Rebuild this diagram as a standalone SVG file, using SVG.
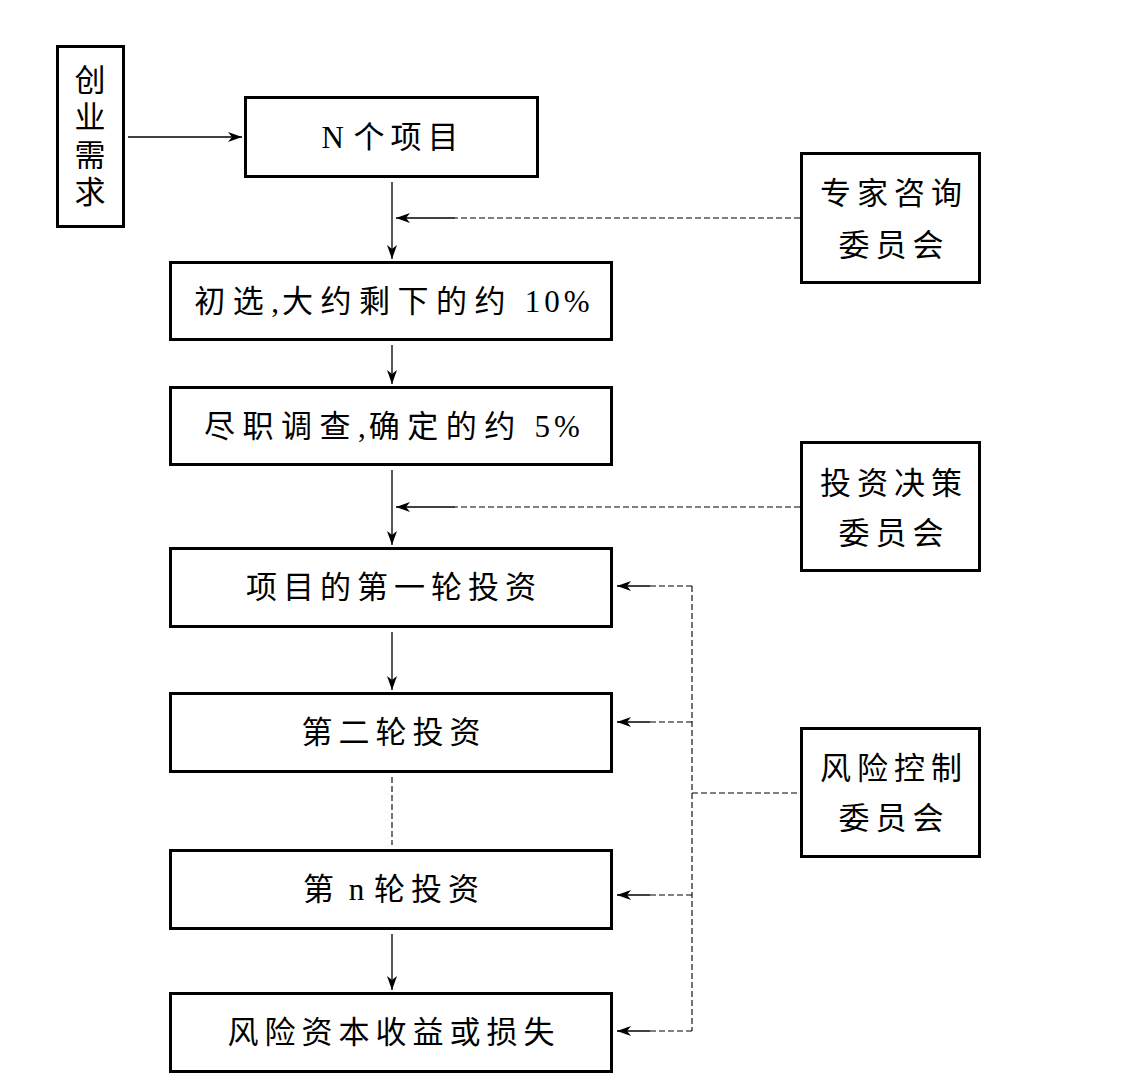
<svg xmlns="http://www.w3.org/2000/svg" width="1145" height="1087" viewBox="0 0 1145 1087">
<style>
.box{fill:#fff;stroke:#000;stroke-width:3}
.t{font-family:"Liberation Serif","Noto Sans CJK SC",serif;font-size:31px;fill:#000;text-anchor:middle;dominant-baseline:central;letter-spacing:6px}
.w{letter-spacing:7.5px}
.lat{letter-spacing:1px}
.ln{stroke:#000;stroke-width:1.3;fill:none}
.dl{stroke:#000;stroke-width:1.1;fill:none;stroke-dasharray:6 3}
</style>
<defs>
<marker id="ah" viewBox="0 0 14 10" refX="14" refY="5" markerWidth="14" markerHeight="10" markerUnits="userSpaceOnUse" orient="auto">
<path d="M0,0 L14,5 L0,10 L4,5 z" fill="#000"/>
</marker>
</defs>
<rect width="1145" height="1087" fill="#fff"/>
<g id="connectors">
<line class="ln" x1="128" y1="137" x2="242" y2="137" marker-end="url(#ah)"/>
<line class="ln" x1="392" y1="182" x2="392" y2="259" marker-end="url(#ah)"/>
<line class="ln" x1="455" y1="218" x2="396" y2="218" marker-end="url(#ah)"/>
<line class="dl" x1="800" y1="218" x2="455" y2="218"/>
<line class="ln" x1="392" y1="345" x2="392" y2="384" marker-end="url(#ah)"/>
<line class="ln" x1="392" y1="470" x2="392" y2="545" marker-end="url(#ah)"/>
<line class="ln" x1="455" y1="507" x2="396" y2="507" marker-end="url(#ah)"/>
<line class="dl" x1="800" y1="507" x2="455" y2="507"/>
<line class="ln" x1="392" y1="632" x2="392" y2="690" marker-end="url(#ah)"/>
<line class="dl" x1="392" y1="777" x2="392" y2="845"/>
<line class="ln" x1="392" y1="934" x2="392" y2="990" marker-end="url(#ah)"/>
<line class="dl" x1="692" y1="586" x2="692" y2="1031"/>
<line class="dl" x1="692" y1="793" x2="800" y2="793"/>
<line class="dl" x1="692" y1="586" x2="650" y2="586"/>
<line class="ln" x1="650" y1="586" x2="617" y2="586" marker-end="url(#ah)"/>
<line class="dl" x1="692" y1="722" x2="650" y2="722"/>
<line class="ln" x1="650" y1="722" x2="617" y2="722" marker-end="url(#ah)"/>
<line class="dl" x1="692" y1="895" x2="650" y2="895"/>
<line class="ln" x1="650" y1="895" x2="617" y2="895" marker-end="url(#ah)"/>
<line class="dl" x1="692" y1="1031" x2="650" y2="1031"/>
<line class="ln" x1="650" y1="1031" x2="617" y2="1031" marker-end="url(#ah)"/>
</g>
<g id="n-chuangye">
<rect class="box" x="57.5" y="46.5" width="66" height="180"/>
<text class="t" x="90" y="80" style="letter-spacing:0">创</text>
<text class="t" x="90" y="117.5" style="letter-spacing:0">业</text>
<text class="t" x="90" y="155" style="letter-spacing:0">需</text>
<text class="t" x="90" y="192" style="letter-spacing:0">求</text>
</g>
<g id="n-projects">
<rect class="box" x="245.5" y="97.5" width="292" height="79"/>
<text class="t" x="393" y="137"><tspan class="lat">N </tspan>个项目</text>
</g>
<g id="n-expert">
<rect class="box" x="801.5" y="153.5" width="178" height="129"/>
<text class="t" x="894" y="193">专家咨询</text>
<text class="t" x="894" y="245">委员会</text>
</g>
<g id="n-chuxuan">
<rect class="box" x="170.5" y="262.5" width="441" height="77"/>
<text class="t w" x="394" y="301">初选<tspan style="letter-spacing:3px">,</tspan>大约剩下的约<tspan class="lat" style="letter-spacing:4px"> 10%</tspan></text>
</g>
<g id="n-jinzhi">
<rect class="box" x="170.5" y="387.5" width="441" height="77"/>
<text class="t w" x="394" y="426">尽职调查<tspan style="letter-spacing:3px">,</tspan>确定的约<tspan class="lat" style="letter-spacing:4px"> 5%</tspan></text>
</g>
<g id="n-decision">
<rect class="box" x="801.5" y="442.5" width="178" height="128"/>
<text class="t" x="894" y="483">投资决策</text>
<text class="t" x="894" y="533">委员会</text>
</g>
<g id="n-round1">
<rect class="box" x="170.5" y="548.5" width="441" height="78"/>
<text class="t" x="394" y="587">项目的第一轮投资</text>
</g>
<g id="n-round2">
<rect class="box" x="170.5" y="693.5" width="441" height="78"/>
<text class="t" x="394" y="732">第二轮投资</text>
</g>
<g id="n-risk">
<rect class="box" x="801.5" y="728.5" width="178" height="128"/>
<text class="t" x="894" y="768">风险控制</text>
<text class="t" x="894" y="818">委员会</text>
</g>
<g id="n-roundn">
<rect class="box" x="170.5" y="850.5" width="441" height="78"/>
<text class="t" x="394" y="889">第<tspan class="lat"> n </tspan>轮投资</text>
</g>
<g id="n-result">
<rect class="box" x="170.5" y="993.5" width="441" height="78"/>
<text class="t" x="394" y="1032">风险资本收益或损失</text>
</g>
</svg>
